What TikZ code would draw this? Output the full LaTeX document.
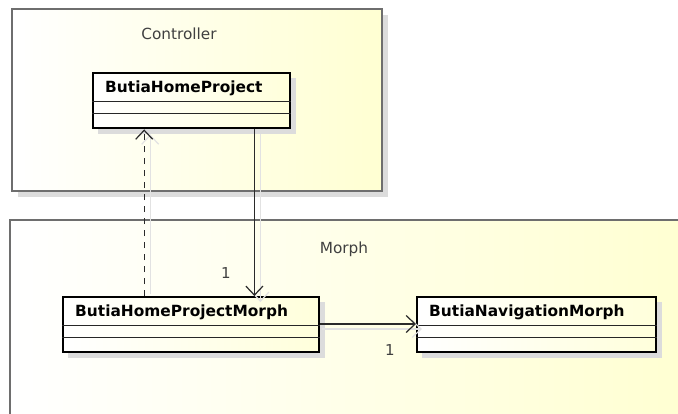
\documentclass[tikz,border=0pt]{standalone}
\usepackage{fontspec}
\setmainfont{DejaVu Sans}
\usetikzlibrary{arrows.meta}

\definecolor{pkgfill}{HTML}{FFFFD2}
\definecolor{pkgline}{HTML}{6E6E6E}
\definecolor{shadowgray}{HTML}{DCDCDC}
\definecolor{linkgray}{HTML}{E2E2E2}
\definecolor{labelgray}{HTML}{404040}
\definecolor{linkdark}{HTML}{2A2A2A}

\tikzset{
  pkgbox/.style={draw=pkgline, line width=1.3pt, left color=white, right color=pkgfill},
  pkgshadow/.style={fill=shadowgray, draw=none},
  pkglabel/.style={text=labelgray, font=\fontsize{15.3}{17}\selectfont, inner sep=0pt},
  classbox/.style={draw=black, line width=2.4pt, left color=white, right color=pkgfill!80,
    rectangle, anchor=north west, inner sep=0pt, minimum height=55pt},
  classshadow/.style={fill=shadowgray, draw=none},
  classname/.style={font=\fontsize{15.4}{17}\selectfont\bfseries, anchor=west, inner sep=0pt},
  sepline/.style={draw=black!85, line width=1pt},
  assoc/.style={draw=linkdark, line width=1.2pt, -{Straight Barb[length=9pt, width=17pt, line width=1.2pt]}},
  depend/.style={assoc, line width=1.4pt, dash pattern=on 6pt off 6pt},
  linkshadow/.style={draw=linkgray, line width=1.2pt, -{Straight Barb[length=9pt, width=17pt, line width=1.2pt]}},
  mult/.style={text=labelgray, font=\fontsize{15}{17}\selectfont, inner sep=0pt},
}

\begin{document}
\begin{tikzpicture}[x=1pt, y=-1pt]
  \useasboundingbox[fill=white] (0,0) rectangle (678,413);

  % package Controller
  \fill[pkgshadow] (18,15) rectangle (388,197);
  \draw[pkgbox] (12,9) rectangle (382,191);
  \node[pkglabel] (ctrlname) at (179,34) {Controller};

  % package Morph (runs off the right and bottom edges)
  \shade[left color=white, right color=pkgfill] (10,220) rectangle (680,415);
  \draw[pkgline, line width=1.6pt] (10,415) -- (10,220) -- (680,220);
  \node[pkglabel] (morphname) at (344,249) {Morph};

  % class shadows
  \fill[classshadow] (98,78) rectangle (296,134);
  \fill[classshadow] (68,302) rectangle (325,358);
  \fill[classshadow] (422,302) rectangle (662,358);

  % classes
  \node[classbox, minimum width=197pt] (bhp) at (92,72) {};
  \node[classbox, minimum width=256pt] (bhpm) at (62,296) {};
  \node[classbox, minimum width=239pt] (bnm) at (416,296) {};

  \foreach \c in {bhp,bhpm,bnm}{
    \draw[sepline] ([yshift=-29pt]\c.north west) -- ([yshift=-29pt]\c.north east);
    \draw[sepline] ([yshift=-41pt]\c.north west) -- ([yshift=-41pt]\c.north east);
  }

  \node[classname] (bhptitle) at ([xshift=13pt, yshift=-16pt]bhp.north west) {ButiaHomeProject};
  \node[classname] (bhpmtitle) at ([xshift=13pt, yshift=-16pt]bhpm.north west) {ButiaHomeProjectMorph};
  \node[classname] (bnmtitle) at ([xshift=13pt, yshift=-16pt]bnm.north west) {ButiaNavigationMorph};

  % connector end points
  \coordinate (depsrc) at ([xshift=-47pt]bhpm.north);
  \coordinate (deptgt) at (depsrc |- bhp.south);
  \coordinate (asrc) at ([xshift=-37pt]bhp.south east);
  \coordinate (atgt) at (asrc |- bhpm.north);
  \coordinate (hsrc) at ([yshift=-28pt]bhpm.north east);
  \coordinate (htgt) at (hsrc -| bnm.west);

  % faint connector shadows
  \draw[linkshadow] ([shift={(6,-2)}]depsrc) -- ([shift={(6,5)}]deptgt);
  \draw[linkshadow] ([shift={(6,5)}]asrc) -- ([shift={(6,6)}]atgt);
  \draw[linkshadow] ([shift={(2,5)}]hsrc) -- ([shift={(6,5)}]htgt);

  % connectors
  \draw[depend] (depsrc) -- (deptgt);
  \draw[assoc] (asrc) -- (atgt);
  \draw[assoc] (hsrc) -- (htgt);

  % multiplicities
  \node[mult] (m1) at (226,273) {1};
  \node[mult] (m2) at (390,350) {1};
\end{tikzpicture}
\end{document}
